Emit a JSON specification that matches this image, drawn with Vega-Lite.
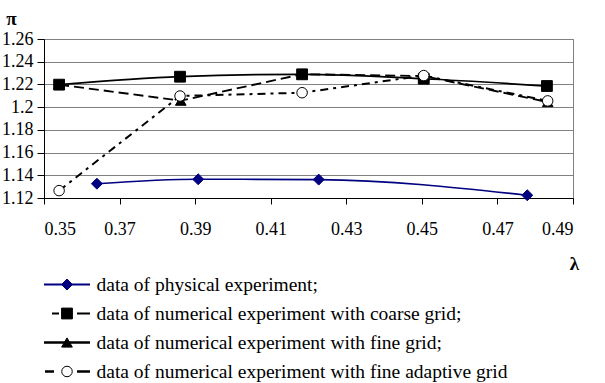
{
  "$schema": "https://vega.github.io/schema/vega-lite/v6.json",
  "padding": {"left": 1, "top": 8, "right": 0, "bottom": 0},
  "background": "white",
  "bounds": "flush",
  "spacing": 72,
  "config": {
    "view": {"stroke": "#808080", "strokeWidth": 1},
    "font": "Liberation Serif"
  },
  "datasets": {
    "curves": [
      {"series": "data of physical experiment;", "lambda": 0.364, "pi": 1.1326},
      {"series": "data of physical experiment;", "lambda": 0.3908, "pi": 1.1365},
      {"series": "data of physical experiment;", "lambda": 0.4227, "pi": 1.1362},
      {"series": "data of physical experiment;", "lambda": 0.4779, "pi": 1.1224},
      {"series": "data of numerical experiment with coarse grid;", "lambda": 0.354, "pi": 1.2198},
      {"series": "data of numerical experiment with coarse grid;", "lambda": 0.386, "pi": 1.2268},
      {"series": "data of numerical experiment with coarse grid;", "lambda": 0.4183, "pi": 1.2289},
      {"series": "data of numerical experiment with coarse grid;", "lambda": 0.4505, "pi": 1.225},
      {"series": "data of numerical experiment with coarse grid;", "lambda": 0.4831, "pi": 1.2186},
      {"series": "data of numerical experiment with fine grid;", "lambda": 0.354, "pi": 1.2198},
      {"series": "data of numerical experiment with fine grid;", "lambda": 0.3862, "pi": 1.2057},
      {"series": "data of numerical experiment with fine grid;", "lambda": 0.4183, "pi": 1.229},
      {"series": "data of numerical experiment with fine grid;", "lambda": 0.4505, "pi": 1.2274},
      {"series": "data of numerical experiment with fine grid;", "lambda": 0.4833, "pi": 1.2045},
      {"series": "data of numerical experiment with fine adaptive grid", "lambda": 0.354, "pi": 1.1265},
      {"series": "data of numerical experiment with fine adaptive grid", "lambda": 0.386, "pi": 1.2098},
      {"series": "data of numerical experiment with fine adaptive grid", "lambda": 0.4183, "pi": 1.2127},
      {"series": "data of numerical experiment with fine adaptive grid", "lambda": 0.4505, "pi": 1.2278},
      {"series": "data of numerical experiment with fine adaptive grid", "lambda": 0.4833, "pi": 1.2055}
    ],
    "keys": [
      {"series": "data of physical experiment;"},
      {"series": "data of numerical experiment with coarse grid;"},
      {"series": "data of numerical experiment with fine grid;"},
      {"series": "data of numerical experiment with fine adaptive grid"}
    ]
  },
  "resolve": {"scale": {"strokeDash": "independent", "strokeWidth": "independent", "color": "independent", "y": "independent", "x": "independent"}},
  "vconcat": [
    {
      "width": 529,
      "height": 159,
      "data": {"name": "curves"},
      "encoding": {
        "x": {
          "field": "lambda", "type": "quantitative",
          "scale": {"domain": [0.35, 0.49], "nice": false, "zero": false},
          "axis": {
            "values": [0.35, 0.37, 0.39, 0.41, 0.43, 0.45, 0.47, 0.49],
            "format": ".2f",
            "grid": false,
            "labelFont": "Liberation Serif",
            "labelColor": "black",
            "domainColor": "black",
            "tickColor": "black",
            "labelFontSize": 18,
            "tickSize": 6,
            "labelPadding": 16,
            "title": "λ",
            "titleFont": "Liberation Serif",
            "titleColor": "black",
            "titleFontSize": 19,
            "titleFontWeight": "bold",
            "titleX": 530,
            "titleY": 65,
            "titleAlign": "center",
            "titleBaseline": "middle"
          }
        },
        "y": {
          "field": "pi", "type": "quantitative",
          "scale": {"domain": [1.12, 1.26], "nice": false, "zero": false},
          "axis": {
            "values": [1.12, 1.14, 1.16, 1.18, 1.2, 1.22, 1.24, 1.26],
            "labelExpr": "format(datum.value, '.2~f')",
            "grid": true,
            "gridColor": "#808080",
            "gridWidth": 1,
            "labelFont": "Liberation Serif",
            "labelColor": "black",
            "domainColor": "black",
            "tickColor": "black",
            "labelFontSize": 18,
            "tickSize": 7,
            "labelPadding": 4,
            "title": "π",
            "titleFont": "Liberation Serif",
            "titleColor": "black",
            "titleAngle": 0,
            "titleFontSize": 19,
            "titleFontWeight": "bold",
            "titleX": -33,
            "titleY": -21,
            "titleAlign": "center",
            "titleBaseline": "middle"
          }
        }
      },
      "layer": [
        {
          "transform": [{"filter": "datum.series === 'data of physical experiment;' || datum.series === 'data of numerical experiment with coarse grid;'"}],
          "mark": {"type": "line", "interpolate": "monotone"},
          "encoding": {
            "color": {
              "field": "series", "type": "nominal", "legend": null,
              "scale": {
                "domain": ["data of physical experiment;", "data of numerical experiment with coarse grid;", "data of numerical experiment with fine grid;", "data of numerical experiment with fine adaptive grid"],
                "range": ["#000080", "black", "black", "black"]
              }
            },
            "strokeWidth": {
              "field": "series", "type": "nominal", "legend": null,
              "scale": {
                "domain": ["data of physical experiment;", "data of numerical experiment with coarse grid;", "data of numerical experiment with fine grid;", "data of numerical experiment with fine adaptive grid"],
                "range": [1.6, 2, 2.5, 2]
              }
            }
          }
        },
        {
          "transform": [{"filter": "datum.series === 'data of numerical experiment with fine grid;' || datum.series === 'data of numerical experiment with fine adaptive grid'"}],
          "mark": {"type": "line", "interpolate": "linear"},
          "encoding": {
            "color": {"field": "series", "type": "nominal", "legend": null},
            "strokeDash": {
              "field": "series", "type": "nominal", "legend": null,
              "scale": {
                "domain": ["data of physical experiment;", "data of numerical experiment with coarse grid;", "data of numerical experiment with fine grid;", "data of numerical experiment with fine adaptive grid"],
                "range": [[1, 0], [1, 0], [10, 5], [8, 5, 3, 5]]
              }
            },
            "strokeWidth": {"field": "series", "type": "nominal", "legend": null}
          }
        },
        {
          "mark": {"type": "point", "opacity": 1, "strokeWidth": 1},
          "encoding": {
            "shape": {
              "field": "series", "type": "nominal", "legend": null,
              "scale": {
                "domain": ["data of physical experiment;", "data of numerical experiment with coarse grid;", "data of numerical experiment with fine grid;", "data of numerical experiment with fine adaptive grid"],
                "range": ["diamond", "square", "triangle-up", "circle"]
              }
            },
            "fill": {
              "field": "series", "type": "nominal", "legend": null,
              "scale": {
                "domain": ["data of physical experiment;", "data of numerical experiment with coarse grid;", "data of numerical experiment with fine grid;", "data of numerical experiment with fine adaptive grid"],
                "range": ["#000080", "black", "black", "white"]
              }
            },
            "stroke": {
              "field": "series", "type": "nominal", "legend": null,
              "scale": {
                "domain": ["data of physical experiment;", "data of numerical experiment with coarse grid;", "data of numerical experiment with fine grid;", "data of numerical experiment with fine adaptive grid"],
                "range": ["#000080", "black", "black", "black"]
              }
            },
            "size": {
              "field": "series", "type": "nominal", "legend": null,
              "scale": {
                "domain": ["data of physical experiment;", "data of numerical experiment with coarse grid;", "data of numerical experiment with fine grid;", "data of numerical experiment with fine adaptive grid"],
                "range": [120, 110, 100, 80]
              }
            }
          }
        }
      ]
    },
    {
      "width": 46,
      "height": 116,
      "view": {"stroke": null},
      "data": {"name": "keys"},
      "encoding": {
        "y": {
          "field": "series", "type": "nominal",
          "scale": {
            "domain": ["data of physical experiment;", "data of numerical experiment with coarse grid;", "data of numerical experiment with fine grid;", "data of numerical experiment with fine adaptive grid"]
          },
          "axis": {
            "orient": "right",
            "title": null,
            "domain": false,
            "ticks": false,
            "grid": false,
            "labelFont": "Liberation Serif",
            "labelFontSize": 19.5,
            "labelColor": "black",
            "labelPadding": 6,
            "labelLimit": 0
          }
        }
      },
      "layer": [
        {
          "mark": {"type": "rule"},
          "encoding": {
            "color": {
              "field": "series", "type": "nominal", "legend": null,
              "scale": {
                "domain": ["data of physical experiment;", "data of numerical experiment with coarse grid;", "data of numerical experiment with fine grid;", "data of numerical experiment with fine adaptive grid"],
                "range": ["#000080", "black", "black", "black"]
              }
            },
            "strokeDash": {
              "field": "series", "type": "nominal", "legend": null,
              "scale": {
                "domain": ["data of physical experiment;", "data of numerical experiment with coarse grid;", "data of numerical experiment with fine grid;", "data of numerical experiment with fine adaptive grid"],
                "range": [[1, 0], [13, 18, 7, 100], [1, 0], [13, 23, 9, 100]]
              }
            },
            "strokeWidth": {
              "field": "series", "type": "nominal", "legend": null,
              "scale": {
                "domain": ["data of physical experiment;", "data of numerical experiment with coarse grid;", "data of numerical experiment with fine grid;", "data of numerical experiment with fine adaptive grid"],
                "range": [2, 2.5, 2, 2.5]
              }
            }
          }
        },
        {
          "mark": {"type": "point", "opacity": 1, "strokeWidth": 1},
          "encoding": {
            "shape": {"field": "series", "type": "nominal", "legend": null},
            "fill": {"field": "series", "type": "nominal", "legend": null},
            "stroke": {"field": "series", "type": "nominal", "legend": null},
            "size": {"field": "series", "type": "nominal", "legend": null}
          }
        }
      ]
    }
  ]
}
